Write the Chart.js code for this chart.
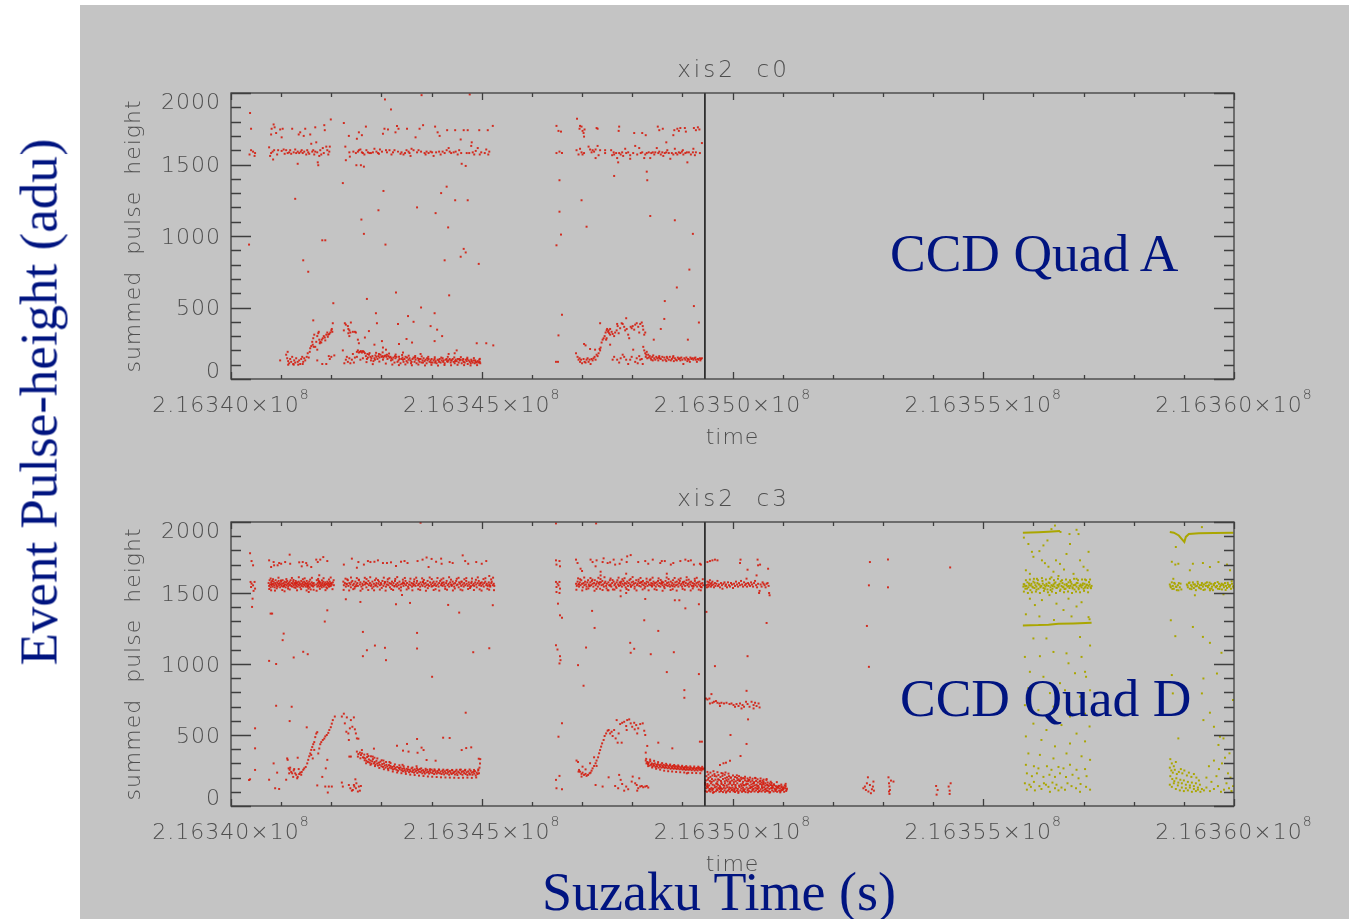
<!DOCTYPE html>
<html>
<head>
<meta charset="utf-8">
<script src="https://cdn.jsdelivr.net/npm/chart.js@4.4.1/dist/chart.umd.min.js"></script>
<style>
  html, body { margin: 0; padding: 0; width: 1349px; height: 919px; overflow: hidden; background: #fff; }
  #bg { position: absolute; left: 80px; top: 5px; width: 1269px; height: 914px; background: rgb(196,196,196); }
  canvas { position: absolute; left: 0; }
  .big { position: absolute; font-family: "Liberation Serif", "Times New Roman", serif; font-size: 53.5px; line-height: 53.5px; color: #001480; white-space: nowrap; }
</style>
</head>
<body>
<div id="bg"></div>
<canvas id="quadA" width="1349" height="460" style="top:0"></canvas>
<canvas id="quadD" width="1349" height="459" style="top:460px"></canvas>
<div class="big" style="left:890px;top:227px">CCD Quad A</div>
<div class="big" style="left:900px;top:672px">CCD Quad D</div>
<div class="big" style="left:542px;top:865px;font-size:54px;line-height:54px">Suzaku Time (s)</div>
<div class="big" style="left:39px;top:402px;font-size:53px;line-height:53px;transform:translate(-50%,-50%) rotate(-90deg)">Event Pulse-height (adu)</div>
<script>
// time axis: seconds since T0 (Suzaku time 2.16340e8 s)
const T0 = 216340000;
const X_TICKS = [216340000, 216345000, 216350000, 216355000, 216360000];
const Y_TICKS = [0, 500, 1000, 1500, 2000];
const GAP_LINE = 9450; // vertical marker, seconds since T0

// ---- xis2 c0 (CCD Quad A), [t - T0, summed pulse height]
const A_EARLY = [[380,1860],[400,1750],[400,1600],[370,1570],[480,1580],[470,1560],[360,940],[440,1590]];
const A_UPPER_1 = [[760,1620],[780,1560],[800,1580],[830,1590],[840,1535],[860,1600],[920,1570],[800,1710],[810,1750],[850,1780],[870,1760],[900,1720],[980,1745],[1010,1690],[1030,1750],[1050,1605],[1100,1600],[1130,1580],[1160,1585],[1220,1750],[1250,1585],[1280,1605],[1300,1580],[1330,1590],[1350,1710],[1360,1580],[1380,1725],[1410,1600],[1450,1700],[1480,1750],[1460,1590],[1500,1570],[1540,1585],[1580,1710],[1600,1645],[1620,1590],[1640,1600],[1660,1570],[1680,1760],[1700,1655],[1720,1585],[1730,1515],[1740,1495],[1760,1560],[1800,1570],[1830,1615],[1860,1775],[1870,1740],[1900,1625],[1940,1570],[1970,1625],[1990,1815],[1330,1505],[1180,1600],[1200,1575],[1390,1590],[1430,1580],[1520,1600],[1560,1575],[1680,1590],[1780,1600],[1850,1580],[1920,1600],[1960,1590],[1010,1595],[1070,1575],[940,1600]];
const A_LOWER_1 = [[980,130],[1100,170],[1120,145],[1130,190],[1140,125],[1160,110],[1180,140],[1200,120],[1220,155],[1240,105],[1260,130],[1280,115],[1300,145],[1330,120],[1360,130],[1380,105],[1400,140],[1420,155],[1440,120],[1460,145],[1480,130],[1510,155],[1530,180],[1550,150],[1140,100],[1250,100],[1340,100],[1430,105],[1570,190],[1580,215],[1600,230],[1620,260],[1640,285],[1650,225],[1660,310],[1680,225],[1700,260],[1720,300],[1740,320],[1760,275],[1770,250],[1780,260],[1800,255],[1810,275],[1830,285],[1850,300],[1870,290],[1880,270],[1900,310],[1920,325],[1930,295],[1940,310],[1960,315],[1980,325],[2000,340],[2010,350],[2020,330],[2030,390],[1640,410],[1750,330],[1630,240],[1720,205],[1820,105],[1900,105],[1970,140],[2000,155],[2060,165],[1950,160],[1720,130]];
const A_UPPER_2 = [[2250,1790],[2280,1625],[2290,1530],[2350,1700],[2360,1585],[2370,1555],[2230,1370],[2490,1580],[2510,1680],[2530,1590],[2550,1600],[2580,1605],[2610,1585],[2630,1580],[2660,1570],[2690,1765],[2730,1585],[2760,1580],[2790,1580],[2830,1585],[2860,1610],[2900,1590],[2930,1580],[2970,1605],[3010,1590],[3030,1715],[3060,1750],[3090,1600],[3130,1745],[3160,1600],[3190,1885],[3230,1585],[3260,1600],[3280,1725],[3310,1770],[3340,1750],[3380,1575],[3400,1585],[3440,1570],[3470,1580],[3510,1750],[3540,1590],[3580,1560],[3600,1610],[3640,1600],[3680,1690],[3710,1585],[3760,1750],[3790,1590],[3830,1775],[3860,1580],[3900,1590],[3940,1580],[3980,1590],[4010,1585],[4040,1560],[4070,1765],[4090,1585],[4120,1725],[4160,1700],[4180,1570],[4220,1590],[4260,1580],[4310,1740],[4340,1615],[4360,1590],[4390,1580],[4440,1585],[4470,1740],[4520,1570],[4580,1675],[4590,1580],[4600,1505],[4640,1740],[4680,1490],[4720,1740],[4750,1580],[4790,1630],[4800,1655],[4820,1585],[4850,1570],[4920,1615],[4950,1740],[4990,1585],[5090,1605],[5120,1740],[5130,1570],[5220,1770],[2500,1495],[2590,1495],[2650,1485],[2610,1705],[2550,1725],[3070,1955],[3800,1985],[4760,1990],[2440,1590],[2700,1600],[2950,1575],[3110,1585],[3200,1570],[3330,1590],[3500,1600],[3560,1580],[3740,1600],[3880,1570],[4150,1590],[4300,1600],[4480,1590],[4550,1600],[4700,1580],[4880,1595],[4960,1570],[5060,1580],[5150,1590]];
const A_SCATTER_2 = [[1280,1260],[1440,830],[1540,750],[1820,970],[1880,970],[2040,530],[2600,1115],[2650,1015],[2940,1180],[3040,1315],[3080,940],[3290,605],[3710,1200],[4080,1160],[4190,1300],[4300,1345],[4330,1060],[4260,830],[4350,585],[4470,1250],[4720,1250],[4640,910],[4680,885],[4580,855],[4940,805],[2710,560],[2890,460],[2910,390],[3530,440],[3640,400],[3790,500],[4060,460],[3980,370],[4110,345],[4210,300],[3330,385],[3610,255],[2750,335],[2670,290],[2860,240],[3010,265],[3030,220],[3090,205],[3350,245],[3430,185],[3500,280],[3780,175],[4060,265],[4460,180],[4500,200],[4900,250],[5090,250],[5230,235],[4340,175]];
const A_LOWER_2 = [[2230,200],[2250,340],[2270,390],[2290,380],[2330,370],[2340,350],[2360,340],[2380,325],[2390,395],[2430,330],[2470,330],[2490,325],[2530,275],[2550,250],[2360,300],[2340,320],[2260,110],[2290,135],[2310,155],[2330,120],[2360,145],[2380,110],[2410,135],[2430,175],[2450,115],[2470,150],[2510,190],[2530,200],[2550,185],[2570,190],[2590,195],[2610,185],[2630,195],[2650,190],[2670,180],[2510,155],[2580,135],[2630,145],
  [2690,160],[2710,140],[2730,150],[2750,170],[2780,155],[2800,145],[2820,160],[2840,125],[2860,145],[2880,165],[2900,155],[2920,140],[2940,160],[2960,150],[2980,170],[3000,155],[3020,160],[3040,150],[3060,160],[3080,165],[3100,155],[3120,140],[3140,160],[3160,150],[3180,155],[3200,145],[3220,135],[3240,150],[3260,115],[3280,145],[3300,155],[3320,120],[3340,130],[3360,140],[3380,110],[3400,140],[3420,150],[3440,120],[3460,140],[3480,155],[3500,125],[3520,115],[3540,135],[3560,145],[3580,130],[3600,120],[3620,140],[3640,150],[3660,120],[3680,135],[3700,110],[3720,145],[3740,130],[3760,120],[3780,140],[3800,115],[3820,130],[3840,145],[3860,125],[3880,135],[3900,110],[3920,130],[3940,140],[3960,120],[3980,130],[4000,140],[4020,115],[4040,130],[4060,140],[4080,125],[4100,110],[4120,135],[4140,130],[4160,140],[4180,115],[4200,130],[4220,145],[4240,130],[4260,110],[4280,135],[4300,140],[4320,120],[4340,130],[4360,140],[4380,115],[4400,130],[4420,140],[4440,120],[4460,110],[4480,135],[4500,125],[4520,140],[4540,115],[4560,130],[4580,135],[4600,110],[4620,130],[4640,120],[4660,115],[4680,135],[4700,125],[4720,105],[4740,130],[4760,120],[4780,110],[4800,125],[4820,115],[4840,130],[4860,110],[4880,120],[4900,115],[4920,125],[4940,115],[4960,120],[4970,110],
  [2720,175],[2790,130],[2870,135],[2950,175],[3030,135],[3110,170],[3190,130],[3270,160],[3350,155],[3430,135],[3510,150],[3590,110],[3670,150],[3750,140],[3830,115],[3910,145],[3990,115],[4070,115],[4150,120],[4230,120],[4310,125],[4390,130],[4470,125],[4550,140],[4630,140],[4710,140],[4790,135],[4870,130],[4950,135],
  [2702,118],[2763,181],[2827,104],[2893,183],[2958,122],[3024,186],[3087,108],[3152,178],[3217,101],[3283,171],[3348,97],[3412,168],[3477,102],[3543,163],[3607,96],[3673,161],[3736,101],[3802,158],[3868,95],[3933,155],[3997,99],[4063,152],[4128,94],[4193,150],[4257,98],[4323,155],[4388,96],[4452,151],[4517,99],[4583,153],[4648,97],[4712,149],[4777,95],[4843,146],[4907,97],[4962,141]];
const A_UPPER_3 = [[6490,1770],[6530,1735],[6580,1730],[6490,1580],[6550,1590],[6600,1580],[6900,1820],[6960,1770],[6950,1750],[6990,1765],[7010,1735],[7030,1720],[7050,1745],[7040,1695],[7290,1755],[7310,1750],[7740,1765],[7730,1735],[8040,1720],[8200,1720],[8270,1705],[8510,1765],[8540,1740],[8610,1750],[8680,1655],[8820,1705],[8840,1740],[8900,1750],[8930,1735],[8960,1755],[9050,1755],[9070,1730],[9230,1755],[9270,1740],[9310,1760],[9340,1745],[9390,1650],
  [6890,1600],[6930,1570],[6960,1610],[6990,1585],[7010,1570],[7040,1580],[7130,1625],[7160,1605],[7190,1585],[7210,1600],[7240,1590],[7270,1605],[7270,1545],[7310,1630],[7330,1565],[7360,1600],[7460,1600],[7460,1580],[7580,1600],[7600,1565],[7630,1585],[7640,1570],[7680,1580],[7700,1545],[7720,1515],[7740,1580],[7770,1570],[7800,1585],[7820,1560],[7860,1610],[7880,1580],[7920,1585],[7960,1565],[7960,1540],[8020,1580],[8060,1630],[8100,1570],[8140,1615],[8170,1580],[8200,1585],[8240,1545],[8260,1570],[8290,1580],[8330,1585],[8360,1545],[8380,1580],[8410,1585],[8440,1570],[8460,1585],[8490,1615],[8520,1580],[8540,1590],[8570,1570],[8600,1585],[8620,1560],[8650,1580],[8680,1585],[8700,1600],[8730,1580],[8760,1540],[8790,1580],[8820,1570],[8850,1610],[8870,1580],[8900,1570],[8930,1585],[8960,1580],[8990,1590],[9010,1600],[9020,1570],[9060,1580],[9090,1585],[9100,1515],[9130,1585],[9170,1570],[9210,1585],[9220,1610],[9250,1565],[9270,1585],[9350,1580]];
const A_SCATTER_3 = [[6550,1390],[6550,1170],[6580,1010],[6490,935],[6990,1250],[7090,1065],[6600,450],[6530,305],[6480,120],[6520,120],[7640,1420],[8290,1450],[8300,1390],[8360,1140],[8850,1110],[9210,1015],[9140,765],[8890,640],[8650,545],[9230,510],[9330,395],[9110,275],[8570,350],[8640,420],[8430,275]];
const A_LOWER_3 = [[6880,180],[6910,155],[6930,135],[6950,145],[6960,120],[6980,135],[7000,110],[7030,140],[7050,120],[7070,115],[7090,135],[7110,145],[7130,120],[7150,135],[7170,105],[7190,140],[7210,130],[7230,145],[7250,155],[7270,135],[7290,170],[7310,160],[7330,180],[7040,245],[7070,235],[7160,210],[7260,205],
  [7350,210],[7360,200],[7370,220],[7390,255],[7410,275],[7430,285],[7450,300],[7470,325],[7490,340],[7500,350],[7480,275],[7520,330],[7540,320],[7560,310],[7360,390],[7490,285],
  [7530,340],[7560,350],[7590,330],[7610,315],[7640,300],[7660,325],[7690,340],[7710,370],[7730,320],[7760,355],[7790,390],[7810,385],[7840,365],[7860,340],[7890,350],[7920,310],[7940,285],[7970,365],[7990,355],[8010,370],[8040,345],[8060,380],[8090,390],[8120,365],[8140,325],[8160,385],[8190,395],[8210,370],[8220,345],[8240,310],[8260,325],[7700,385],[7880,425],
  [7560,240],[7610,135],[7640,155],[7700,135],[7740,115],[7770,145],[7810,170],[7840,155],[7880,135],[7920,105],[7960,135],[7990,155],[8020,205],[8060,120],[8090,145],[8110,110],[8140,160],[8160,135],[8190,140],[8210,105],[8220,225],
  [8240,200],[8260,180],[8270,155],[8290,190],[8300,145],[8320,170],[8330,150],[8350,160],[8370,145],[8380,135],[8400,155],[8420,165],[8440,145],[8460,135],[8480,155],[8500,145],[8520,130],[8540,160],[8550,145],[8570,140],[8600,155],[8610,130],[8640,150],[8660,135],[8690,155],[8700,145],[8730,135],[8750,155],[8770,130],[8790,140],[8810,150],[8830,125],[8850,145],[8870,135],[8890,130],[8910,150],[8930,140],[8960,130],[8980,150],[9000,135],[9020,105],[9040,145],[9060,135],[9080,150],[9100,125],[9110,140],[9130,135],[9160,150],[9180,140],[9200,145],[9220,135],[9240,145],[9270,135],[9290,120],[9310,140],[9320,135],[9350,145],[9370,140],[9390,145],
  [8280,170],[8410,130],[8530,150],[8680,125],[8820,160],[8950,145],[9150,120],[9260,150],[9360,130]];

// ---- xis2 c3 (CCD Quad D), red events
const D_EARLY = [[380,1780],[410,1725],[440,1695],[390,1578],[410,1566],[440,1554],[470,1578],[480,1531],[400,1542],[450,1515],[430,1460],[420,1402],[480,547],[480,406],[480,254],[380,188],[360,183]];
const D_UPPER_1 = [[760,1730],[850,1718],[860,1695],[930,1695],[1000,1706],[1080,1718],[1170,1770],[1180,1706],[1360,1716],[1410,1688],[1430,1718],[1520,1695],[1600,1683],[1700,1735],[1730,1718],[1780,1735],[1840,1753],[1920,1725],[1760,1625],[800,1683],[960,1711],[1500,1711],
  [750,1570],[760,1550],[770,1590],[780,1560],[790,1540],[800,1575],[810,1555],[820,1585],[830,1545],[840,1565],[850,1580],[860,1555],[870,1540],[880,1570],[890,1590],[900,1560],[910,1550],[920,1575],[930,1545],[940,1565],[950,1585],[960,1555],[970,1570],[980,1540],[990,1560],[1000,1580],[1010,1550],[1020,1565],[1030,1590],[1040,1545],[1050,1570],[1060,1555],[1070,1580],[1080,1560],[1090,1540],[1100,1575],[1110,1555],[1120,1585],[1130,1565],[1140,1545],[1150,1570],[1160,1555],[1170,1580],[1180,1560],[1190,1590],[1200,1550],[1210,1570],[1220,1545],[1230,1565],[1240,1580],[1250,1555],[1260,1540],[1270,1570],[1280,1560],[1290,1585],[1300,1550],[1310,1565],[1320,1575],[1330,1545],[1340,1560],[1350,1580],[1360,1555],[1370,1570],[1380,1540],[1390,1560],[1400,1585],[1410,1550],[1420,1565],[1430,1575],[1440,1545],[1450,1560],[1460,1580],[1470,1555],[1480,1570],[1490,1545],[1500,1565],[1510,1585],[1520,1555],[1530,1570],[1540,1550],[1550,1560],[1560,1580],[1570,1540],[1580,1565],[1590,1525],[1600,1555],[1610,1575],[1620,1550],[1630,1565],[1640,1545],[1650,1570],[1660,1555],[1700,1560],[1710,1590],[1720,1545],[1730,1570],[1740,1555],[1750,1585],[1760,1545],[1770,1565],[1780,1575],[1790,1550],[1800,1560],[1810,1540],[1820,1570],[1830,1555],[1840,1580],[1850,1545],[1860,1565],[1870,1555],[1880,1575],[1890,1560],[1900,1540],[1910,1565],[1920,1580],[1930,1555],[1940,1570],[1950,1545],[1960,1560],[1970,1580],[1980,1565],[1990,1550],[2000,1570],[2010,1560],[2030,1575],[2050,1555],
  [763,1528],[791,1602],[838,1597],[877,1517],[912,1533],[947,1608],[996,1588],[1023,1521],[1068,1512],[1104,1598],[1137,1531],[1171,1525],[1214,1606],[1246,1592],[1288,1536],[1317,1519],[1352,1611],[1398,1527],[1433,1597],[1469,1603],[1507,1518],[1544,1531],[1579,1594],[1613,1607],[1648,1523],[1707,1516],[1738,1599],[1772,1529],[1813,1589],[1846,1604],[1884,1520],[1917,1533],[1953,1595],[1988,1609],[2024,1527],[2047,1590],[812,1563],[1056,1548],[1292,1572],[1527,1543],[1758,1578],[1965,1547]];
const D_SCATTER_1 = [[790,1355],[820,1355],[760,1022],[900,1000],[1030,1168],[1050,1214],[1250,1046],[1440,1086],[1530,1069],[1870,1299],[1920,1378],[1550,1507],[800,1519],[900,706],[1210,699],[1170,598],[1510,554],[760,185],[850,300],[920,235],[880,125],[960,120],[1100,185],[1330,340],[1720,145],[1820,205],[1890,265],[1880,137],[1950,137],[1930,95],[2010,137],[1920,325]];
const D_LOWER_1 = [[1120,335],[1130,325],[1150,265],[1170,255],[1200,240],[1220,230],[1250,250],[1280,230],[1300,220],[1330,205],[1360,225],[1380,235],[1410,240],[1440,255],[1460,265],[1490,275],[1520,300],[1540,325],[1560,350],[1580,370],[1600,395],[1620,415],[1640,435],[1660,450],[1680,485],[1700,510],[1720,520],[1740,370],[1760,405],[1780,435],[1800,450],[1830,465],[1860,475],[1880,490],[1910,500],[1940,515],[1960,535],[1990,555],[2010,580],[2030,605],[2070,630],[1160,230],[1180,270],[1260,260],[1320,195],[1240,205],[1400,220],[1350,260],[1600,360],[1630,335],[1660,395]];
const D_UPPER_2 = [[2250,1700],[2410,1742],[2540,1718],[2650,1700],[2730,1725],[2780,1718],[2860,1720],[2930,1730],[3030,1711],[3110,1711],[3190,1716],[3290,1690],[3390,1720],[3460,1725],[3520,1711],[3720,1725],[3820,1735],[3900,1750],[3940,1683],[4000,1740],[4090,1720],[4190,1742],[4200,1706],[4360,1718],[4420,1711],[4620,1765],[4670,1725],[4730,1706],[4890,1718],[5000,1706],[5090,1725],[2510,1678],
  [2240,1580],[2250,1555],[2270,1570],[2290,1545],[2310,1565],[2330,1590],[2340,1550],[2360,1570],[2380,1560],[2390,1540],[2400,1575],[2420,1585],[2430,1555],[2450,1565],[2470,1545],[2480,1580],[2500,1560],[2520,1570],[2530,1550],[2550,1590],[2570,1560],[2580,1575],[2600,1545],[2620,1565],[2630,1555],[2650,1580],[2670,1560],[2690,1570],[2700,1540],[2720,1565],[2740,1585],[2750,1555],[2770,1570],[2790,1550],[2800,1560],[2820,1580],[2840,1545],[2850,1565],[2870,1590],[2890,1555],[2900,1570],[2920,1545],[2940,1565],[2950,1580],[2970,1555],[2990,1570],[3000,1560],[3020,1585],[3040,1550],[3060,1565],[3070,1575],[3090,1545],[3110,1560],[3120,1580],[3140,1555],[3160,1570],[3170,1540],[3190,1565],[3210,1580],[3220,1555],[3240,1570],[3260,1550],[3270,1585],[3290,1560],[3310,1545],[3320,1570],[3340,1555],[3360,1580],[3380,1560],[3390,1540],[3410,1565],[3430,1575],[3440,1550],[3460,1565],[3480,1585],[3490,1555],[3510,1570],[3530,1545],[3550,1560],[3560,1580],[3580,1555],[3600,1570],[3610,1545],[3630,1565],[3650,1580],[3660,1560],[3680,1550],[3700,1570],[3710,1585],[3730,1555],[3750,1565],[3770,1545],[3780,1575],[3800,1560],[3820,1550],[3830,1580],[3850,1565],[3870,1545],[3880,1570],[3900,1555],[3920,1585],[3930,1560],[3950,1550],[3970,1575],[3990,1560],[4000,1545],[4020,1570],[4040,1580],[4050,1555],[4070,1565],[4090,1550],[4100,1580],[4120,1560],[4140,1545],[4150,1570],[4170,1585],[4190,1555],[4200,1565],[4220,1550],[4240,1575],[4250,1560],[4270,1545],[4290,1570],[4300,1585],[4320,1555],[4340,1565],[4350,1545],[4370,1575],[4390,1560],[4400,1550],[4420,1580],[4440,1565],[4450,1545],[4470,1570],[4490,1585],[4500,1555],[4520,1560],[4540,1540],[4550,1575],[4570,1565],[4590,1550],[4600,1580],[4620,1560],[4640,1545],[4650,1570],[4670,1555],[4690,1585],[4700,1565],[4720,1550],[4740,1575],[4750,1560],[4770,1545],[4790,1570],[4800,1580],[4820,1555],[4840,1565],[4850,1550],[4870,1575],[4890,1560],[4900,1540],[4920,1570],[4940,1585],[4950,1555],[4970,1565],[4990,1550],[5000,1575],[5020,1560],[5040,1545],[5050,1570],[5070,1580],[5090,1555],[5100,1565],[5120,1550],[5140,1575],[5150,1560],[5170,1545],[5190,1570],[5200,1580],[5220,1555],[5240,1565],[5250,1550],
  [2246,1522],[2283,1601],[2317,1596],[2356,1518],[2392,1609],[2437,1527],[2463,1532],[2509,1605],[2548,1594],[2583,1516],[2621,1529],[2668,1607],[2703,1598],[2737,1521],[2776,1611],[2815,1533],[2853,1519],[2894,1602],[2931,1591],[2968,1524],[3006,1536],[3047,1608],[3083,1517],[3126,1597],[3158,1604],[3197,1528],[3233,1521],[3276,1599],[3314,1612],[3352,1531],[3386,1518],[3427,1594],[3466,1606],[3503,1525],[3541,1533],[3578,1601],[3617,1519],[3656,1596],[3693,1608],[3734,1527],[3772,1522],[3811,1603],[3846,1592],[3887,1516],[3924,1534],[3962,1609],[4003,1598],[4041,1521],[4078,1527],[4117,1606],[4153,1517],[4196,1595],[4234,1603],[4271,1529],[4308,1523],[4349,1611],[4386,1594],[4425,1518],[4463,1532],[4502,1600],[4538,1607],[4577,1524],[4614,1519],[4653,1597],[4692,1605],[4728,1528],[4767,1535],[4806,1602],[4844,1521],[4883,1593],[4921,1610],[4958,1526],[4996,1517],[5034,1598],[5073,1604],[5112,1530],[5148,1523],[5187,1596],[5226,1608],[5244,1520],
  [2302,1561],[2494,1548],[2688,1573],[2877,1552],[3068,1578],[3259,1546],[3447,1569],[3639,1553],[3828,1577],[4019,1549],[4211,1572],[4402,1556],[4594,1579],[4785,1547],[4975,1571],[5166,1552]];
const D_SCATTER_2 = [[2290,1456],[2580,1437],[2630,1226],[2630,1055],[2710,1097],[2870,1130],[3070,1114],[3090,1027],[3290,1421],[3410,1486],[3570,1430],[3710,1219],[3710,1109],[4010,910],[4330,1416],[4550,1362],[4830,1083],[5150,1111],[5220,1414],[5150,1620],[3780,1995],[4680,657],[4230,481],[4360,479],[3710,472],[3510,437],[3310,425],[3430,390],[3540,383],[3800,411],[3840,394],[3720,375],[3900,324],[4080,319],[4600,394],[4690,408],[4790,413],[4940,333],[2850,404],[2390,348]];
const D_LOWER_2 = [[2210,630],[2250,650],[2270,582],[2310,624],[2340,511],[2370,547],[2390,605],[2420,558],[2450,624],[2470,540],[2490,511],[2510,476],[2540,474],[2350,465],[2300,523],[2360,348],
  [2510,383],[2540,366],[2570,376],[2590,359],[2610,371],[2630,343],[2530,348],[2580,336],[2610,394],
  [2650,340],[2665,322],[2680,335],[2700,318],[2715,345],[2730,310],[2750,328],[2765,305],[2780,320],[2800,298],[2815,315],[2830,330],[2850,300],[2865,310],[2880,292],[2900,318],[2915,300],[2930,285],[2950,305],[2965,290],[2980,312],[3000,280],[3015,295],[3030,275],[3050,300],[3065,285],[3080,270],[3100,290],[3115,278],[3130,262],[3150,288],[3165,270],[3180,282],[3200,265],[3215,275],[3230,258],[3250,280],[3265,262],[3280,270],[3300,255],[3315,275],[3330,248],[3350,268],[3365,258],[3380,272],[3400,250],[3415,262],[3430,245],[3450,265],[3465,252],[3480,240],[3500,262],[3515,248],[3530,258],[3550,238],[3565,255],[3580,245],[3600,265],[3615,240],[3630,252],[3650,235],[3665,258],[3680,244],[3700,250],[3715,232],[3730,255],[3750,242],[3765,260],[3780,238],[3800,248],[3815,230],[3830,252],[3850,240],[3865,228],[3880,250],[3900,236],[3915,255],[3930,240],[3950,228],[3965,248],[3980,236],[4000,256],[4015,232],[4030,245],[4050,225],[4065,250],[4080,238],[4100,228],[4115,246],[4130,235],[4150,255],[4165,230],[4180,242],[4200,225],[4215,248],[4230,236],[4250,222],[4265,244],[4280,232],[4300,252],[4315,228],[4330,240],[4350,220],[4365,246],[4380,234],[4400,225],[4415,250],[4430,232],[4450,240],[4465,222],[4480,245],[4500,230],[4515,218],[4530,242],[4550,235],[4565,255],[4580,226],[4600,240],[4615,220],[4630,245],[4650,232],[4665,250],[4680,225],[4700,238],[4715,218],[4730,244],[4750,230],[4765,222],[4780,248],[4800,235],[4815,220],[4830,240],[4850,228],[4865,245],[4880,215],[4900,235],[4915,225],[4930,250],[4945,230],[4955,270],[4965,300],[4970,330],
  [2720,365],[2790,350],[2860,340],[3040,320],[3160,310],[3420,290],[3700,280],
  [2657,362],[2694,301],[2741,352],[2782,290],[2826,348],[2871,281],[2918,335],[2957,268],[3004,322],[3049,259],[3092,310],[3137,252],[3181,302],[3226,243],[3268,293],[3313,236],[3357,287],[3398,231],[3442,280],[3487,226],[3531,276],[3574,221],[3618,271],[3662,218],[3707,266],[3749,214],[3793,265],[3838,211],[3881,262],[3926,208],[3969,259],[4012,206],[4057,258],[4101,204],[4144,257],[4188,202],[4233,256],[4276,201],[4319,255],[4364,200],[4408,254],[4451,199],[4496,255],[4539,198],[4583,256],[4627,199],[4671,255],[4714,200],[4758,257],[4802,198],[4846,254],[4889,201],[4932,258],
  [2210,165],[2230,137],[2350,148],[2380,125],[2410,108],[2430,113],[2460,137],[2480,188],[2500,160],[2530,102],[2550,137],[2570,108],[2590,141],[2490,125],[2450,148]];
const D_UPPER_3 = [[6480,1990],[7280,1990],[6480,1730],[6490,1700],[6550,1725],[6560,1688],[6480,1578],[6510,1566],[6530,1554],[6550,1578],[6490,1542],[6560,1531],[6490,1507],[6550,1500],
  [6880,1735],[6910,1711],[6970,1671],[7000,1655],[7170,1735],[7210,1718],[7290,1730],[7270,1688],[7370,1650],[7430,1744],[7410,1718],[7510,1711],[7560,1716],[7630,1735],[7660,1700],[7750,1706],[7790,1735],[7900,1758],[7970,1767],[7890,1718],[8120,1718],[8260,1725],[8320,1706],[8410,1735],[8560,1711],[8590,1725],[8650,1725],[8770,1700],[8820,1711],[8960,1725],[9060,1735],[9120,1725],[9170,1730],[9230,1700],[9370,1700],[7370,1624],[7880,1636],[8690,1636],
  [6880,1565],[6895,1550],[6910,1580],[6925,1560],[6940,1545],[6955,1575],[6970,1555],[6985,1590],[7000,1565],[7015,1540],[7030,1570],[7045,1555],[7060,1580],[7075,1560],[7090,1545],[7105,1575],[7120,1590],[7135,1560],[7150,1550],[7165,1575],[7180,1555],[7195,1585],[7210,1565],[7225,1545],[7240,1570],[7255,1590],[7270,1555],[7285,1565],[7300,1580],[7315,1545],[7330,1570],[7345,1560],[7360,1530],[7375,1575],[7390,1555],[7405,1585],[7420,1560],[7435,1545],[7450,1570],[7465,1580],[7480,1550],[7495,1565],[7510,1520],[7525,1575],[7540,1555],[7555,1590],[7570,1560],[7585,1545],[7600,1570],[7615,1525],[7630,1580],[7645,1555],[7660,1565],[7675,1545],[7690,1575],[7705,1590],[7720,1560],[7735,1550],[7750,1575],[7765,1555],[7780,1580],[7795,1545],[7810,1565],[7825,1585],[7840,1555],[7855,1570],[7870,1540],[7885,1565],[7900,1580],[7915,1550],[7930,1570],[7945,1590],[7960,1560],[7975,1545],[7990,1575],[8005,1555],[8020,1580],[8035,1565],[8050,1545],[8065,1570],[8080,1590],[8095,1555],[8110,1565],[8125,1580],[8140,1550],[8155,1570],[8170,1545],[8185,1575],[8200,1560],[8215,1585],[8230,1555],[8245,1570],[8260,1545],[8275,1565],[8290,1580],[8305,1550],[8320,1575],[8335,1560],[8350,1590],[8365,1555],[8380,1570],[8395,1545],[8410,1565],[8425,1580],[8440,1555],[8455,1570],[8470,1545],[8485,1575],[8500,1560],[8515,1585],[8530,1550],[8545,1570],[8560,1545],[8575,1565],[8590,1580],[8605,1555],[8620,1575],[8635,1545],[8650,1560],[8665,1585],[8680,1555],[8695,1570],[8710,1550],[8725,1575],[8740,1560],[8755,1545],[8770,1580],[8785,1555],[8800,1570],[8815,1590],[8830,1560],[8845,1545],[8860,1575],[8875,1555],[8890,1580],[8905,1560],[8920,1545],[8935,1570],[8950,1585],[8965,1555],[8980,1565],[8995,1545],[9010,1575],[9025,1560],[9040,1580],[9055,1550],[9070,1570],[9085,1590],[9100,1555],[9115,1565],[9130,1545],[9145,1575],[9160,1560],[9175,1580],[9190,1550],[9205,1570],[9220,1545],[9235,1565],[9250,1585],[9265,1555],[9280,1570],[9295,1545],[9310,1575],[9325,1560],[9340,1580],[9355,1550],[9370,1565],[9385,1540],[9400,1570],[9415,1555],
  [6887,1523],[6921,1603],[6962,1597],[7004,1518],[7043,1609],[7087,1527],[7126,1532],[7168,1605],[7207,1594],[7249,1516],[7287,1529],[7326,1607],[7368,1598],[7409,1521],[7447,1611],[7488,1533],[7527,1519],[7569,1602],[7608,1591],[7646,1524],[7687,1536],[7728,1608],[7767,1517],[7806,1597],[7848,1604],[7887,1528],[7926,1521],[7967,1599],[8008,1612],[8047,1531],[8086,1518],[8127,1594],[8166,1606],[8208,1525],[8247,1533],[8286,1601],[8327,1519],[8366,1596],[8407,1608],[8446,1527],[8487,1522],[8526,1603],[8567,1592],[8606,1516],[8646,1534],[8687,1609],[8726,1598],[8766,1521],[8807,1527],[8846,1606],[8887,1517],[8926,1595],[8966,1603],[9006,1529],[9047,1523],[9086,1611],[9127,1594],[9166,1518],[9207,1532],[9247,1600],[9287,1607],[9327,1524],[9367,1519],[9407,1597],
  [6938,1562],[7146,1548],[7352,1576],[7561,1551],[7768,1569],[7974,1546],[8183,1578],[8391,1553],[8598,1571],[8806,1548],[9014,1575],[9222,1552]];
const D_SCATTER_3 = [[6520,1425],[6560,1343],[6600,1325],[6480,1132],[6510,1102],[6560,1055],[6570,1027],[6550,1004],[6600,582],[6530,488],[6550,212],[6480,184],[6490,125],[6600,118],[6920,992],[7030,847],[7080,1116],[7200,1374],[7250,1254],[7770,1477],[7880,1500],[8260,1458],[8520,1233],[8850,1449],[8940,1449],[9060,1392],[9330,1421],[8240,1308],[7960,1149],[7970,1079],[8040,1107],[8370,1069],[8830,1083],[8690,943],[9330,929],[9040,816],[9040,762],[9390,453],[8270,376],[8300,423],[8520,446],[8800,406],[9090,230],[9030,265]];
const D_LOWER_3 = [[6890,320],[6920,310],[6940,254],[6960,242],[6990,226],[7010,235],[7040,219],[7070,226],[7090,212],[7120,219],[7150,230],[7170,235],[7190,249],[7210,265],[7240,282],[7270,301],[7290,320],[7320,343],[7340,371],[7360,394],[7380,418],[7400,441],[7430,465],[7450,493],[7480,511],[7510,530],[7530,535],[7560,511],[7590,523],[7610,493],[7640,535],[7670,476],[7690,605],[7730,511],[7760,577],[7800,586],[7840,593],[7880,563],[7900,605],[7940,610],[7970,582],[8000,558],[8040,586],[8080,570],[8120,547],[8160,577],[8210,582],[8240,530],[8260,500],[7890,535],[7710,446],[7790,446],[8050,540],[8100,511],[7240,343],[7290,282],[7160,301],[7070,258],[7010,277],[6930,242],[6990,207],
  [7270,148],[7410,137],[7530,202],[7660,141],[7720,125],[7740,219],[7770,184],[7800,155],[7840,108],[7880,137],[7920,118],[7990,172],[8010,207],[8090,148],[8120,125],[8160,137],[8190,141],[8220,132],[8260,137],[8290,141],[8320,130],[8060,160],[8140,195],[8100,108],
  [8270,320],[8285,300],[8300,310],[8315,295],[8330,305],[8345,285],[8360,315],[8375,290],[8390,300],[8405,280],[8420,295],[8435,285],[8450,300],[8465,275],[8480,290],[8495,280],[8510,295],[8525,270],[8540,288],[8555,278],[8570,292],[8585,270],[8600,285],[8615,275],[8630,290],[8645,268],[8660,282],[8675,272],[8690,288],[8705,265],[8720,280],[8735,270],[8750,285],[8765,262],[8780,278],[8795,268],[8810,282],[8825,262],[8840,276],[8855,266],[8870,280],[8885,260],[8900,274],[8915,264],[8930,278],[8945,258],[8960,272],[8975,262],[8990,276],[9005,256],[9020,270],[9035,260],[9050,274],[9065,254],[9080,268],[9095,258],[9110,272],[9125,255],[9140,266],[9155,258],[9170,270],[9185,252],[9200,265],[9215,258],[9230,268],[9245,250],[9260,264],[9275,256],[9290,268],[9305,250],[9320,262],[9335,270],[9350,255],[9365,265],[9380,250],[9395,262],[9410,258],[9425,265],
  [8279,332],[8318,281],[8357,327],[8398,271],[8437,318],[8477,262],[8516,309],[8557,256],[8596,302],[8637,249],[8676,297],[8717,245],[8757,292],[8796,243],[8837,289],[8876,240],[8916,286],[8957,238],[8996,283],[9037,236],[9077,281],[9117,234],[9157,279],[9196,233],[9237,278],[9276,232],[9317,277],[9357,231],[9396,276],
  [9350,1706],[9370,1542],[9350,453],[9380,265]];
const D_AFTER_GAP = [[9500,1718],[9550,1725],[9600,1730],[9650,1735],[9700,1730],[10150,1711],[10160,1735],[10300,1664],[10500,1735],[10510,1695],[10550,1700],[10710,1671],[10480,1624],[10280,1601],
  [9480,1555],[9490,1540],[9500,1580],[9510,1560],[9520,1545],[9530,1575],[9540,1555],[9550,1590],[9560,1565],[9570,1545],[9580,1570],[9590,1555],[9600,1580],[9620,1560],[9630,1540],[9650,1570],[9660,1550],[9680,1565],[9700,1585],[9710,1550],[9730,1560],[9750,1540],[9770,1570],[9790,1555],[9800,1530],[9820,1565],[9840,1575],[9860,1550],[9870,1560],[9890,1540],[9910,1575],[9930,1555],[9950,1545],[9970,1570],[9990,1560],[10010,1535],[10030,1565],[10050,1550],[10070,1580],[10090,1560],[10110,1545],[10130,1570],[10150,1555],[10170,1585],[10190,1560],[10210,1545],[10230,1575],[10250,1555],[10270,1565],[10290,1545],[10310,1570],[10330,1560],[10350,1550],[10370,1575],[10390,1560],[10410,1545],[10430,1570],[10450,1585],[10470,1555],[10490,1540],[10510,1565],[10530,1500],[10540,1515],[10560,1560],[10580,1545],[10600,1575],[10620,1565],[10640,1555],[10660,1540],[10680,1565],[10700,1570],[10720,1550],[10740,1484],[10730,1500],
  [9480,1367],[10680,1289],[10300,1055],[9650,985],[10280,811],[10310,610],[9960,500],[10280,437],[10160,352],[9950,319],[9870,305],[9820,301],[9750,289],
  [9500,750],[9540,757],[9580,788],[9600,727],[9630,734],[9670,739],[9700,727],[9740,722],[9780,727],[9830,722],[9880,727],[9940,718],[9980,722],[10020,711],[10050,699],[10080,718],[10120,704],[10150,722],[10200,711],[10230,699],[10270,734],[10300,718],[10340,699],[10380,734],[10420,711],[10450,727],[10480,704],[10520,722],[10540,694],[9550,722],[9750,704],[10180,687],[10420,687],[9470,757]];
const D_BLOB = [[9460,105],[9490,100],[9530,108],[9560,102],[9600,110],[9630,98],[9670,104],[9700,112],[9740,100],[9770,106],[9810,98],[9840,110],[9880,102],[9910,108],[9950,100],[9980,112],[10020,104],[10050,98],[10090,108],[10120,102],[10160,110],[10190,100],[10230,106],[10260,98],[10300,112],[10330,104],[10370,100],[10400,108],[10440,102],[10470,110],[10510,98],[10540,106],[10580,102],[10610,110],[10650,100],[10680,108],[10720,104],[10750,98],[10790,110],[10820,102],[10860,106],[10890,100],[10930,108],[10960,104],[11000,112],[11030,100],[11070,106],
  [9475,125],[9510,130],[9545,120],[9580,128],[9615,122],[9650,132],[9685,118],[9720,126],[9755,134],[9790,120],[9825,128],[9860,124],[9895,132],[9930,118],[9965,126],[10000,130],[10035,122],[10070,128],[10105,120],[10140,134],[10175,124],[10210,128],[10245,118],[10280,130],[10315,122],[10350,126],[10385,132],[10420,120],[10455,128],[10490,124],[10525,130],[10560,118],[10595,126],[10630,132],[10665,122],[10700,128],[10735,120],[10770,126],[10805,130],[10840,122],[10875,118],[10910,128],[10945,124],[10980,130],[11015,120],[11050,126],[11085,122],
  [9460,150],[9500,155],[9535,145],[9570,160],[9605,150],[9640,145],[9675,158],[9710,150],[9745,142],[9780,155],[9815,148],[9850,160],[9885,145],[9920,152],[9955,158],[9990,146],[10025,154],[10060,148],[10095,160],[10130,144],[10165,152],[10200,158],[10235,146],[10270,150],[10305,156],[10340,144],[10375,152],[10410,158],[10445,146],[10480,150],[10515,142],[10550,155],[10585,148],[10620,152],[10655,144],[10690,150],[10725,140],[10760,148],[10795,138],[10830,146],[10865,140],[10900,135],[10940,142],[10980,138],[11020,132],[11060,140],
  [9470,180],[9510,185],[9550,175],[9590,190],[9625,178],[9660,186],[9700,172],[9735,184],[9770,176],[9810,190],[9845,174],[9880,182],[9920,188],[9955,172],[9990,180],[10030,186],[10065,174],[10100,182],[10140,176],[10175,188],[10210,170],[10250,180],[10285,174],[10320,184],[10360,170],[10395,178],[10430,168],[10470,176],[10505,166],[10545,172],[10580,164],[10620,170],[10655,160],[10700,166],[10740,158],[10780,162],
  [9480,210],[9520,222],[9560,205],[9600,215],[9640,225],[9680,208],[9720,218],[9760,204],[9800,212],[9845,220],[9890,202],[9930,210],[9970,200],[10010,214],[10050,204],[10090,198],[10130,210],[10170,200],[10210,196],[10250,206],[10300,194],[10350,200],[10400,192],[10450,198],[10500,188],[10560,194],[10620,186],[10680,190],
  [9500,240],[9560,235],[9620,245],[9700,238],[9780,232],[9860,236],[9920,228],
  [9453,163],[9487,139],[9522,197],[9549,117],[9588,171],[9611,93],[9647,211],[9682,136],[9713,188],[9748,119],[9779,164],[9806,228],[9837,142],[9869,95],[9903,173],[9936,131],[9962,199],[9998,115],[10027,168],[10058,137],[10087,216],[10116,92],[10148,178],[10182,141],[10214,113],[10243,193],[10277,157],[10308,96],[10339,184],[10367,133],[10398,117],[10427,162],[10461,195],[10493,139],[10526,104],[10552,177],[10587,134],[10613,160],[10648,116],[10676,182],[10704,145],[10738,94],[10762,171],[10791,128],[10827,153],[10853,115],[10884,168],[10917,142],[10951,96],[10973,151],[11006,124],[11041,145],[11078,115],[9505,140],[9595,118],[9690,158],[9765,127],[9855,196],[9947,164],[10040,113],[10125,188],[10220,147],[10315,175],[10410,139],[10505,120],[10598,178],[10690,108],[10785,146],[10880,130],[10975,113],[11060,156]];
const D_LATE = [[12610,125],[12640,137],[12680,160],[12700,202],[12710,102],[12740,148],[12780,118],[12800,137],[12810,172],[12820,108],[12760,90],[12660,113],[13110,202],[13120,160],[13130,137],[13140,113],[13120,102],[13160,179],[13210,172],[13130,85],[14060,141],[14070,80],[14090,113],[14310,137],[14330,108],[14350,160],[14330,85],
  [12740,1718],[13100,1736],[12720,1554],[13100,1540],[12680,1268],[12720,980],[14340,1680]];

// ---- xis2 c3, yellow events (later interval)
const Y_LINE_1 = [[15790,1925],[16100,1928],[16300,1931],[16530,1936]];
const Y_LINE_2 = [[15790,1272],[16100,1274],[16300,1277],[16500,1283],[16800,1286],[17160,1290]];
const Y_LINE_3 = [[18720,1930],[18800,1925],[18900,1905],[18960,1880],[19010,1860],[19040,1895],[19100,1915],[19300,1920],[19600,1923],[19990,1925]];
const Y_BAND_1 = [[15800,1545],[15820,1560],[15840,1530],[15860,1550],[15880,1575],[15900,1540],[15920,1555],[15940,1520],[15960,1565],[15980,1545],[16000,1580],[16020,1535],[16040,1555],[16060,1545],[16080,1570],[16100,1530],[16120,1560],[16140,1540],[16160,1550],[16180,1585],[16200,1535],[16220,1555],[16240,1545],[16260,1565],[16280,1525],[16300,1550],[16320,1570],[16340,1540],[16360,1555],[16380,1530],[16400,1560],[16420,1545],[16440,1575],[16460,1535],[16480,1555],[16500,1545],[16520,1565],[16540,1525],[16560,1550],[16580,1570],[16600,1540],[16620,1560],[16640,1530],[16660,1555],[16680,1545],[16700,1575],[16720,1535],[16740,1550],[16760,1565],[16780,1540],[16800,1555],[16820,1525],[16840,1560],[16860,1545],[16880,1570],[16900,1535],[16920,1550],[16940,1560],[16960,1540],[16980,1555],[17000,1530],[17020,1565],[17040,1545],[17060,1555],[17080,1535],[17100,1550],[17120,1560],[17140,1540],[17160,1550],
  [15810,1510],[15850,1590],[15890,1500],[15930,1595],[15970,1505],[16010,1600],[16050,1510],[16090,1590],[16130,1500],[16170,1605],[16210,1515],[16250,1595],[16290,1505],[16330,1600],[16370,1510],[16410,1590],[16450,1500],[16490,1600],[16530,1515],[16570,1590],[16610,1505],[16650,1595],[16690,1510],[16730,1590],[16770,1500],[16810,1600],[16850,1510],[16890,1590],[16930,1505],[16970,1595],[17010,1515],[17050,1590],[17090,1505],[17130,1595],
  [15807,1562],[15837,1548],[15873,1531],[15911,1567],[15948,1553],[15989,1539],[16024,1572],[16063,1524],[16104,1561],[16143,1547],[16187,1566],[16226,1529],[16264,1554],[16305,1574],[16343,1521],[16384,1549],[16423,1568],[16466,1537],[16503,1557],[16546,1582],[16584,1543],[16622,1528],[16663,1563],[16704,1549],[16745,1578],[16783,1532],[16826,1556],[16864,1571],[16903,1526],[16946,1552],[16987,1567],[17026,1538],[17067,1559],[17109,1577],[17148,1534]];
const Y_SCAT_1 = [[15810,1890],[15970,1790],[16200,1835],[16360,1950],[16430,1975],[16540,1930],[16720,1915],[16860,1945],[16900,1915],[15900,1845],[16000,1755],[16120,1795],[16170,1730],[16230,1710],[16300,1685],[16400,1650],[16450,1730],[16530,1705],[16610,1665],[16660,1775],[16800,1635],[16930,1730],[17000,1685],[17100,1790],[16730,1845],[16280,1870],[15850,1660],[15930,1635],[16070,1600],[16360,1610],[16500,1620],[16860,1600],[17080,1660],[17030,1595],
  [15930,1460],[16030,1415],[16170,1450],[16320,1485],[16460,1425],[16600,1380],[16700,1460],[16860,1405],[16960,1435],[17100,1330],[15850,1350],[16120,1335],[16410,1310],[16760,1335],[17120,1315],
  [16000,1180],[16260,1180],[16930,1190],[15830,1050],[16130,1055],[16400,1085],[16660,1075],[16700,1005],[16960,1050],[17130,1130],[15930,945],[16200,910],[16530,865],[16830,935],[17030,945],[17050,910],[15900,830],[16330,795],[16630,815],[16930,770],[17130,815],[15830,710],[16100,675],[16400,700],[16730,630],[17030,650],[16000,580],[16260,535],[16560,570],[16860,510],[17120,560],[15850,490],[16160,465],[16430,420],[16730,440],[17030,455],
  [15900,370],[16130,360],[16400,335],[16660,370],[16960,350],[17130,325],[15850,290],[16010,280],[16100,265],[16270,280],[16360,255],[16500,275],[16600,265],[16730,290],[16860,255],[17030,260],[15870,230],[15970,210],[16070,230],[16200,205],[16320,220],[16430,205],[16530,230],[16650,205],[16780,220],[16900,195],[17060,210],[15830,160],[15920,150],[16010,170],[16120,140],[16210,160],[16300,135],[16380,165],[16460,150],[16560,130],[16680,160],[16760,140],[16850,125],[16940,155],[17050,135],[17130,115],[15870,115],[16030,110],[16160,120],[16330,100],[16500,110],[16630,115],[16930,100],[15950,135],[16250,150],[16430,125]];
const Y_BAND_2 = [[18720,1560],[18740,1540],[18760,1575],[18780,1550],[18800,1530],[18820,1565],[18840,1545],[18860,1520],[18880,1555],[18900,1570],[18920,1540],[18950,1525],[19060,1560],[19080,1540],[19100,1570],[19120,1530],[19140,1555],[19160,1545],[19180,1575],[19200,1535],[19220,1560],[19240,1520],[19260,1550],[19280,1565],[19300,1540],[19320,1555],[19340,1530],[19360,1570],[19380,1545],[19400,1560],[19420,1525],[19440,1550],[19460,1575],[19480,1540],[19500,1555],[19520,1530],[19540,1565],[19560,1545],[19580,1520],[19600,1555],[19620,1570],[19640,1540],[19660,1550],[19680,1530],[19700,1565],[19720,1545],[19740,1555],[19760,1525],[19780,1560],[19800,1540],[19820,1570],[19840,1550],[19860,1535],[19880,1560],[19900,1545],[19920,1555],[19940,1530],[19960,1565],[19980,1545],[20000,1550],
  [18733,1548],[18771,1529],[18808,1571],[18852,1543],[18893,1519],[18934,1566],[19073,1553],[19113,1574],[19152,1527],[19193,1561],[19233,1547],[19274,1579],[19313,1534],[19354,1556],[19392,1521],[19433,1568],[19474,1549],[19512,1573],[19553,1531],[19592,1562],[19633,1544],[19674,1577],[19712,1528],[19753,1566],[19792,1553],[19833,1521],[19874,1572],[19913,1546],[19954,1583],[19993,1537]];
const Y_SCAT_2 = [[18760,1720],[18830,1700],[18890,1706],[19180,1706],[19360,1964],[19380,1711],[19520,1683],[19690,1718],[19860,1700],[19920,1660],[19120,1660],[18790,1600],[19220,1484],[19520,1519],[19790,1491],[18840,1824],[18740,1308],[19180,1261],[18830,1196],[19380,1191],[19520,1149],[19750,1079],[18760,922],[19390,898],[19660,933],[18780,793],[19360,793],[19980,746],[19520,657],[19600,558],[19790,476],[18890,476],[19390,605],[19690,430],[19910,371],[19720,488],
  [18730,330],[18760,300],[18800,280],[18840,310],[18720,270],[18750,250],[18780,235],[18820,255],[18860,225],[18900,240],[18940,260],[18970,230],[19010,250],[19060,215],[19100,235],[19150,205],[19200,225],[19250,200],[19300,180],[18730,210],[18770,190],[18810,175],[18850,195],[18890,165],[18930,185],[18960,160],[19000,180],[19040,150],[19080,170],[19120,145],[19160,165],[19200,140],[19240,160],[19280,130],[19320,150],[19360,120],[18720,150],[18760,135],[18800,160],[18840,120],[18880,145],[18920,110],[18960,130],[19000,105],[19040,125],[19080,110],[19120,130],[19160,100],[19200,120],[19240,105],[19280,115],[19330,100],[19400,110],[19450,130],[19520,105],[19600,120],[19680,140],[19740,100],[19800,115],[19850,160],[19900,125],[19950,105],[19980,140],[19700,260],[19760,300],[19820,340],[19880,230],[19930,200],[19600,320],[19500,280],[19450,200],[19550,170],[19650,210]];

const RED = 'rgba(212,28,14,0.9)';
const YELLOW = 'rgb(170,166,0)';
const AXIS_COLOR = '#3e3e3e';
const TEXT_COLOR = '#4e4e4e';
const LABEL_FONT = '200 22px "DejaVu Sans"';
const TITLE_FONT = '200 23px "DejaVu Sans"';
const SUP_FONT = '200 14px "DejaVu Sans"';

const toXY = arr => arr.map(p => ({ x: T0 + p[0], y: p[1] }));

function dots(arr, color) {
  return { type: 'scatter', data: toXY(arr), pointStyle: 'rect', pointRadius: 1.4, borderWidth: 0, backgroundColor: color };
}
function trace(arr, color, width) {
  return { type: 'line', data: toXY(arr), borderColor: color, borderWidth: width, pointRadius: 0, tension: 0, fill: false };
}

// IDL-like frame: box, inward ticks on all sides, labels
const idlFrame = {
  id: 'idlFrame',
  afterDraw(chart, args, opts) {
    const { ctx, chartArea: a, scales: { x, y } } = chart;
    ctx.save();
    ctx.strokeStyle = AXIS_COLOR;
    ctx.lineWidth = 1.3;
    ctx.strokeRect(a.left, a.top, a.right - a.left, a.bottom - a.top);
    ctx.beginPath();
    for (let t = X_TICKS[0]; t <= X_TICKS[X_TICKS.length - 1]; t += 1000) {
      const px = Math.round(x.getPixelForValue(t)) + 0.5;
      const len = X_TICKS.includes(t) ? 7 : 4;
      ctx.moveTo(px, a.bottom); ctx.lineTo(px, a.bottom - len);
      ctx.moveTo(px, a.top); ctx.lineTo(px, a.top + len);
    }
    for (let v = 0; v <= 2000; v += 100) {
      const py = Math.round(y.getPixelForValue(v)) + 0.5;
      const len = Y_TICKS.includes(v) ? 20 : 10;
      ctx.moveTo(a.left, py); ctx.lineTo(a.left + len, py);
      ctx.moveTo(a.right, py); ctx.lineTo(a.right - len, py);
    }
    ctx.stroke();

    ctx.fillStyle = TEXT_COLOR;
    ctx.letterSpacing = '1px';
    ctx.textBaseline = 'middle';
    // y labels
    ctx.font = LABEL_FONT;
    ctx.textAlign = 'right';
    Y_TICKS.forEach((v, i) => {
      let py = y.getPixelForValue(v) + 2;
      if (i === 0) py -= 9;
      if (i === Y_TICKS.length - 1) py += 8;
      ctx.fillText(String(v), a.left - 10, py);
    });
    // x labels, e.g. 2.16340×10^8
    const ly = a.bottom + 27;
    X_TICKS.forEach(v => {
      const main = (v / 1e8).toFixed(5) + '×10';
      ctx.font = LABEL_FONT;
      const w1 = ctx.measureText(main).width;
      ctx.font = SUP_FONT;
      const w2 = ctx.measureText('8').width;
      const left = x.getPixelForValue(v) - (w1 + w2) / 2;
      ctx.textAlign = 'left';
      ctx.font = LABEL_FONT;
      ctx.fillText(main, left, ly);
      ctx.font = SUP_FONT;
      ctx.fillText('8', left + w1, ly - 11);
    });
    ctx.textAlign = 'center';
    ctx.font = LABEL_FONT;
    const cx = (a.left + a.right) / 2;
    ctx.fillText('time', cx, a.bottom + 59);
    ctx.font = TITLE_FONT;
    ctx.letterSpacing = '3px';
    ctx.fillText(opts.title, cx + 1, a.top - 22);
    // rotated y title
    ctx.font = LABEL_FONT;
    ctx.letterSpacing = '1px';
    ctx.translate(a.left - 97, (a.top + a.bottom) / 2);
    ctx.rotate(-Math.PI / 2);
    ctx.fillText('summed  pulse  height', 0, 0);
    ctx.restore();
  }
};

function makePanel(id, title, padding, datasets) {
  return new Chart(document.getElementById(id), {
    type: 'scatter',
    data: { datasets },
    options: {
      responsive: false,
      animation: false,
      events: [],
      layout: { padding },
      plugins: { legend: { display: false }, tooltip: { enabled: false }, idlFrame: { title } },
      scales: {
        x: { type: 'linear', min: X_TICKS[0], max: X_TICKS[X_TICKS.length - 1], display: false },
        y: { type: 'linear', min: Y_TICKS[0], max: Y_TICKS[Y_TICKS.length - 1], display: false }
      }
    },
    plugins: [idlFrame]
  });
}

const gapLine = [[GAP_LINE, Y_TICKS[0]], [GAP_LINE, Y_TICKS[Y_TICKS.length - 1]]];

makePanel('quadA', 'xis2  c0', { left: 231, right: 115, top: 93, bottom: 81 }, [
  trace(gapLine, '#111', 1.5),
  dots([].concat(A_EARLY, A_UPPER_1, A_LOWER_1, A_UPPER_2, A_SCATTER_2, A_LOWER_2, A_UPPER_3, A_SCATTER_3, A_LOWER_3), RED)
]);

makePanel('quadD', 'xis2  c3', { left: 231, right: 115, top: 62, bottom: 113 }, [
  trace(gapLine, '#111', 1.5),
  trace(Y_LINE_1, YELLOW, 2),
  trace(Y_LINE_2, YELLOW, 2),
  trace(Y_LINE_3, YELLOW, 2),
  dots([].concat(D_EARLY, D_UPPER_1, D_SCATTER_1, D_LOWER_1, D_UPPER_2, D_SCATTER_2, D_LOWER_2, D_UPPER_3, D_SCATTER_3, D_LOWER_3, D_AFTER_GAP, D_BLOB, D_LATE), RED),
  dots([].concat(Y_BAND_1, Y_SCAT_1, Y_BAND_2, Y_SCAT_2), YELLOW)
]);
</script>
</body>
</html>
